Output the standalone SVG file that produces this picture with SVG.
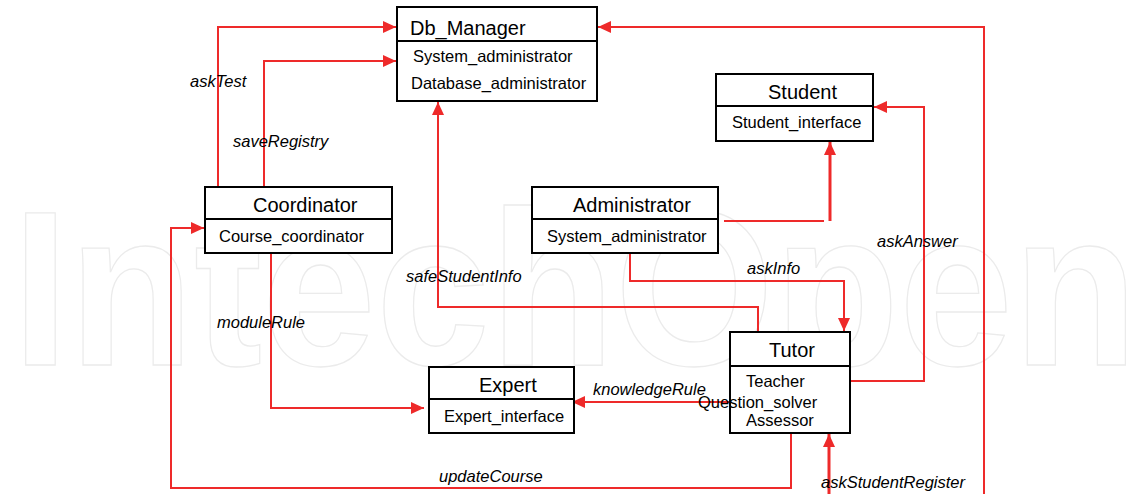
<svg xmlns="http://www.w3.org/2000/svg" width="1142" height="494" viewBox="0 0 1142 494">
<style>
.box{fill:#fff;stroke:#000;stroke-width:2}
.div{stroke:#000;stroke-width:2}
.title{font-family:"Liberation Sans",Arial,sans-serif;font-size:20px;fill:#000}
.item{font-family:"Liberation Sans",Arial,sans-serif;font-size:16.5px;fill:#000}
.lbl{font-family:"Liberation Sans",Arial,sans-serif;font-size:16.5px;font-style:italic;fill:#000}
.c{fill:none;stroke:#ee2a2a;stroke-width:2}
.c3{fill:none;stroke:#ee2a2a;stroke-width:3}
.wm{font-family:"Liberation Sans",Arial,sans-serif;font-size:221px;font-weight:bold;fill:none;stroke:#ebebeb;stroke-width:1.3}
</style>
<defs>
<marker id="ah" markerUnits="userSpaceOnUse" markerWidth="14" markerHeight="12" refX="13" refY="6" orient="auto">
<path d="M0,0 L13,6 L0,12 Z" fill="#ee2a2a"/>
</marker>
</defs>
<rect width="1142" height="494" fill="#fff"/>
<text class="wm" x="12" y="365" textLength="1126" lengthAdjust="spacingAndGlyphs">IntechOpen</text>

<g id="connectors">
<polyline class="c" points="218,187 218,27 396,27" marker-end="url(#ah)"/>
<polyline class="c" points="264,187 264,61 396,61" marker-end="url(#ah)"/>
<polyline class="c" points="758,332 758,307 438,307 438,102" marker-end="url(#ah)"/>
<polyline class="c" points="984,494 984,27 598,27" marker-end="url(#ah)"/>
<polyline class="c" points="724,221 824,221"/>
<polyline class="c3" points="830,221 830,142" marker-end="url(#ah)"/>
<polyline class="c" points="850,381 924,381 924,107 874,107" marker-end="url(#ah)"/>
<polyline class="c" points="630,253 630,281 844,281 844,331" marker-end="url(#ah)"/>
<polyline class="c" points="271,253 271,408 424,408" marker-end="url(#ah)"/>
<polyline class="c" points="731,402 572,402" marker-end="url(#ah)"/>
<polyline class="c" points="791,433 791,488 171,488 171,228 204,228" marker-end="url(#ah)"/>
<polyline class="c3" points="829,494 829,434" marker-end="url(#ah)"/>

<text class="lbl" x="190" y="87">askTest</text>
<text class="lbl" x="233" y="147">saveRegistry</text>
<text class="lbl" x="406" y="282">safeStudentInfo</text>
<text class="lbl" x="747" y="274">askInfo</text>
<text class="lbl" x="877" y="247">askAnswer</text>
<text class="lbl" x="217" y="328">moduleRule</text>
<text class="lbl" x="593" y="395">knowledgeRule</text>
<text class="lbl" x="439" y="482">updateCourse</text>
<text class="lbl" x="821" y="488">askStudentRegister</text>
</g>

<g id="Db_Manager">
<rect class="box" x="397" y="7" width="200" height="94"/>
<line class="div" x1="397" y1="41" x2="598" y2="41"/>
<text class="title" x="410" y="35">Db_Manager</text>
<text class="item" x="413" y="62">System_administrator</text>
<text class="item" x="411" y="89">Database_administrator</text>
</g>

<g id="Student">
<rect class="box" x="716" y="74" width="157" height="67"/>
<line class="div" x1="716" y1="106" x2="873" y2="106"/>
<text class="title" x="768" y="99">Student</text>
<text class="item" x="732" y="128">Student_interface</text>
</g>

<g id="Coordinator">
<rect class="box" x="205" y="187" width="187" height="66"/>
<line class="div" x1="205" y1="219" x2="392" y2="219"/>
<text class="title" x="253" y="212">Coordinator</text>
<text class="item" x="219" y="242">Course_coordinator</text>
</g>

<g id="Administrator">
<rect class="box" x="532" y="187" width="186" height="66"/>
<line class="div" x1="531" y1="219" x2="718" y2="219"/>
<text class="title" x="573" y="212">Administrator</text>
<text class="item" x="547" y="242">System_administrator</text>
</g>

<g id="Expert">
<rect class="box" x="429" y="367" width="145" height="66"/>
<line class="div" x1="428" y1="399" x2="574" y2="399"/>
<text class="title" x="479" y="392">Expert</text>
<text class="item" x="444" y="422">Expert_interface</text>
</g>

<g id="Tutor">
<rect class="box" x="730" y="332" width="120" height="101"/>
<line class="div" x1="730" y1="366" x2="850" y2="366"/>
<text class="title" x="769" y="357">Tutor</text>
<text class="item" x="746" y="387">Teacher</text>
<text class="item" x="698" y="408">Question_solver</text>
<text class="item" x="746" y="426">Assessor</text>
</g>
</svg>
